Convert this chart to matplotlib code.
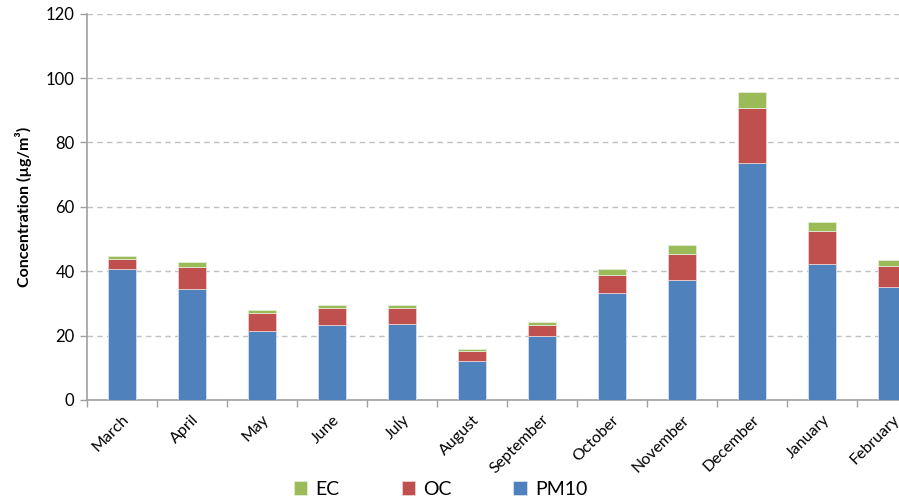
import numpy as np
import matplotlib
matplotlib.use('Agg')
import matplotlib.pyplot as plt
from matplotlib.ticker import MultipleLocator, FixedLocator

plt.rcParams['font.family'] = ['Lato', 'DejaVu Sans']

months = ['March', 'April', 'May', 'June', 'July', 'August', 'September',
          'October', 'November', 'December', 'January', 'February']
pm10 = [40.6, 34.6, 21.5, 23.2, 23.6, 12.1, 20.0, 33.1, 37.2, 73.5, 42.1, 35.0]
oc = [3.1, 6.8, 5.4, 5.5, 5.1, 3.1, 3.2, 5.8, 8.2, 17.3, 10.3, 6.7]
ec = [1.0, 1.5, 1.1, 0.8, 0.9, 0.6, 0.9, 1.8, 2.6, 4.8, 2.8, 1.9]

blue = '#4F81BD'
red = '#C0504D'
green = '#9BBB59'

fig = plt.figure(figsize=(8.99, 5.03), dpi=100)
ax = fig.add_axes([0.0968, 0.2048, 0.9344, 0.768])

x = np.arange(len(months))
w = 0.4
b1 = ax.bar(x, pm10, w, color=blue, edgecolor='#D6E0EE', linewidth=0.6, label='PM10', zorder=3)
b2 = ax.bar(x, oc, w, bottom=pm10, color=red, edgecolor='#EBCFCE', linewidth=0.6, label='OC', zorder=3)
bottom_ec = np.array(pm10) + np.array(oc)
b3 = ax.bar(x, ec, w, bottom=bottom_ec, color=green, edgecolor='#E3ECD6', linewidth=0.6, label='EC', zorder=3)

ax.set_xlim(-0.5, len(months) - 0.5)
ax.set_ylim(0, 120)
ax.yaxis.set_major_locator(MultipleLocator(20))
ax.grid(axis='y', color='#C0C0C0', linestyle=(0, (4, 3)), linewidth=1.0, zorder=0)

ax.set_xticks(x)
ax.set_xticklabels(months, rotation=45, ha='right', rotation_mode='anchor', fontsize=11.5)
ax.xaxis.set_minor_locator(FixedLocator(np.arange(-0.5, len(months), 1)))
ax.tick_params(axis='x', which='major', length=0, pad=9)
ax.tick_params(axis='x', which='minor', length=5, color='#A0A0A0', width=1)
ax.tick_params(axis='y', length=5, color='#A0A0A0', width=1, labelsize=12, pad=4)

for s in ['top', 'right']:
    ax.spines[s].set_visible(False)
for s in ['left', 'bottom']:
    ax.spines[s].set_color('#A0A0A0')
    ax.spines[s].set_linewidth(1.2)

ax.set_ylabel('Concentration (µg/m³)', fontsize=11.5, fontweight='bold', labelpad=10)

fig.legend(handles=[b3, b2, b1], labels=['EC', 'OC', 'PM10'], loc='lower center',
           bbox_to_anchor=(0.49, -0.025), ncol=3, frameon=False, fontsize=14,
           handlelength=0.7, handleheight=0.7, handletextpad=0.4, columnspacing=3.2)

fig.savefig('out.png', dpi=100)
